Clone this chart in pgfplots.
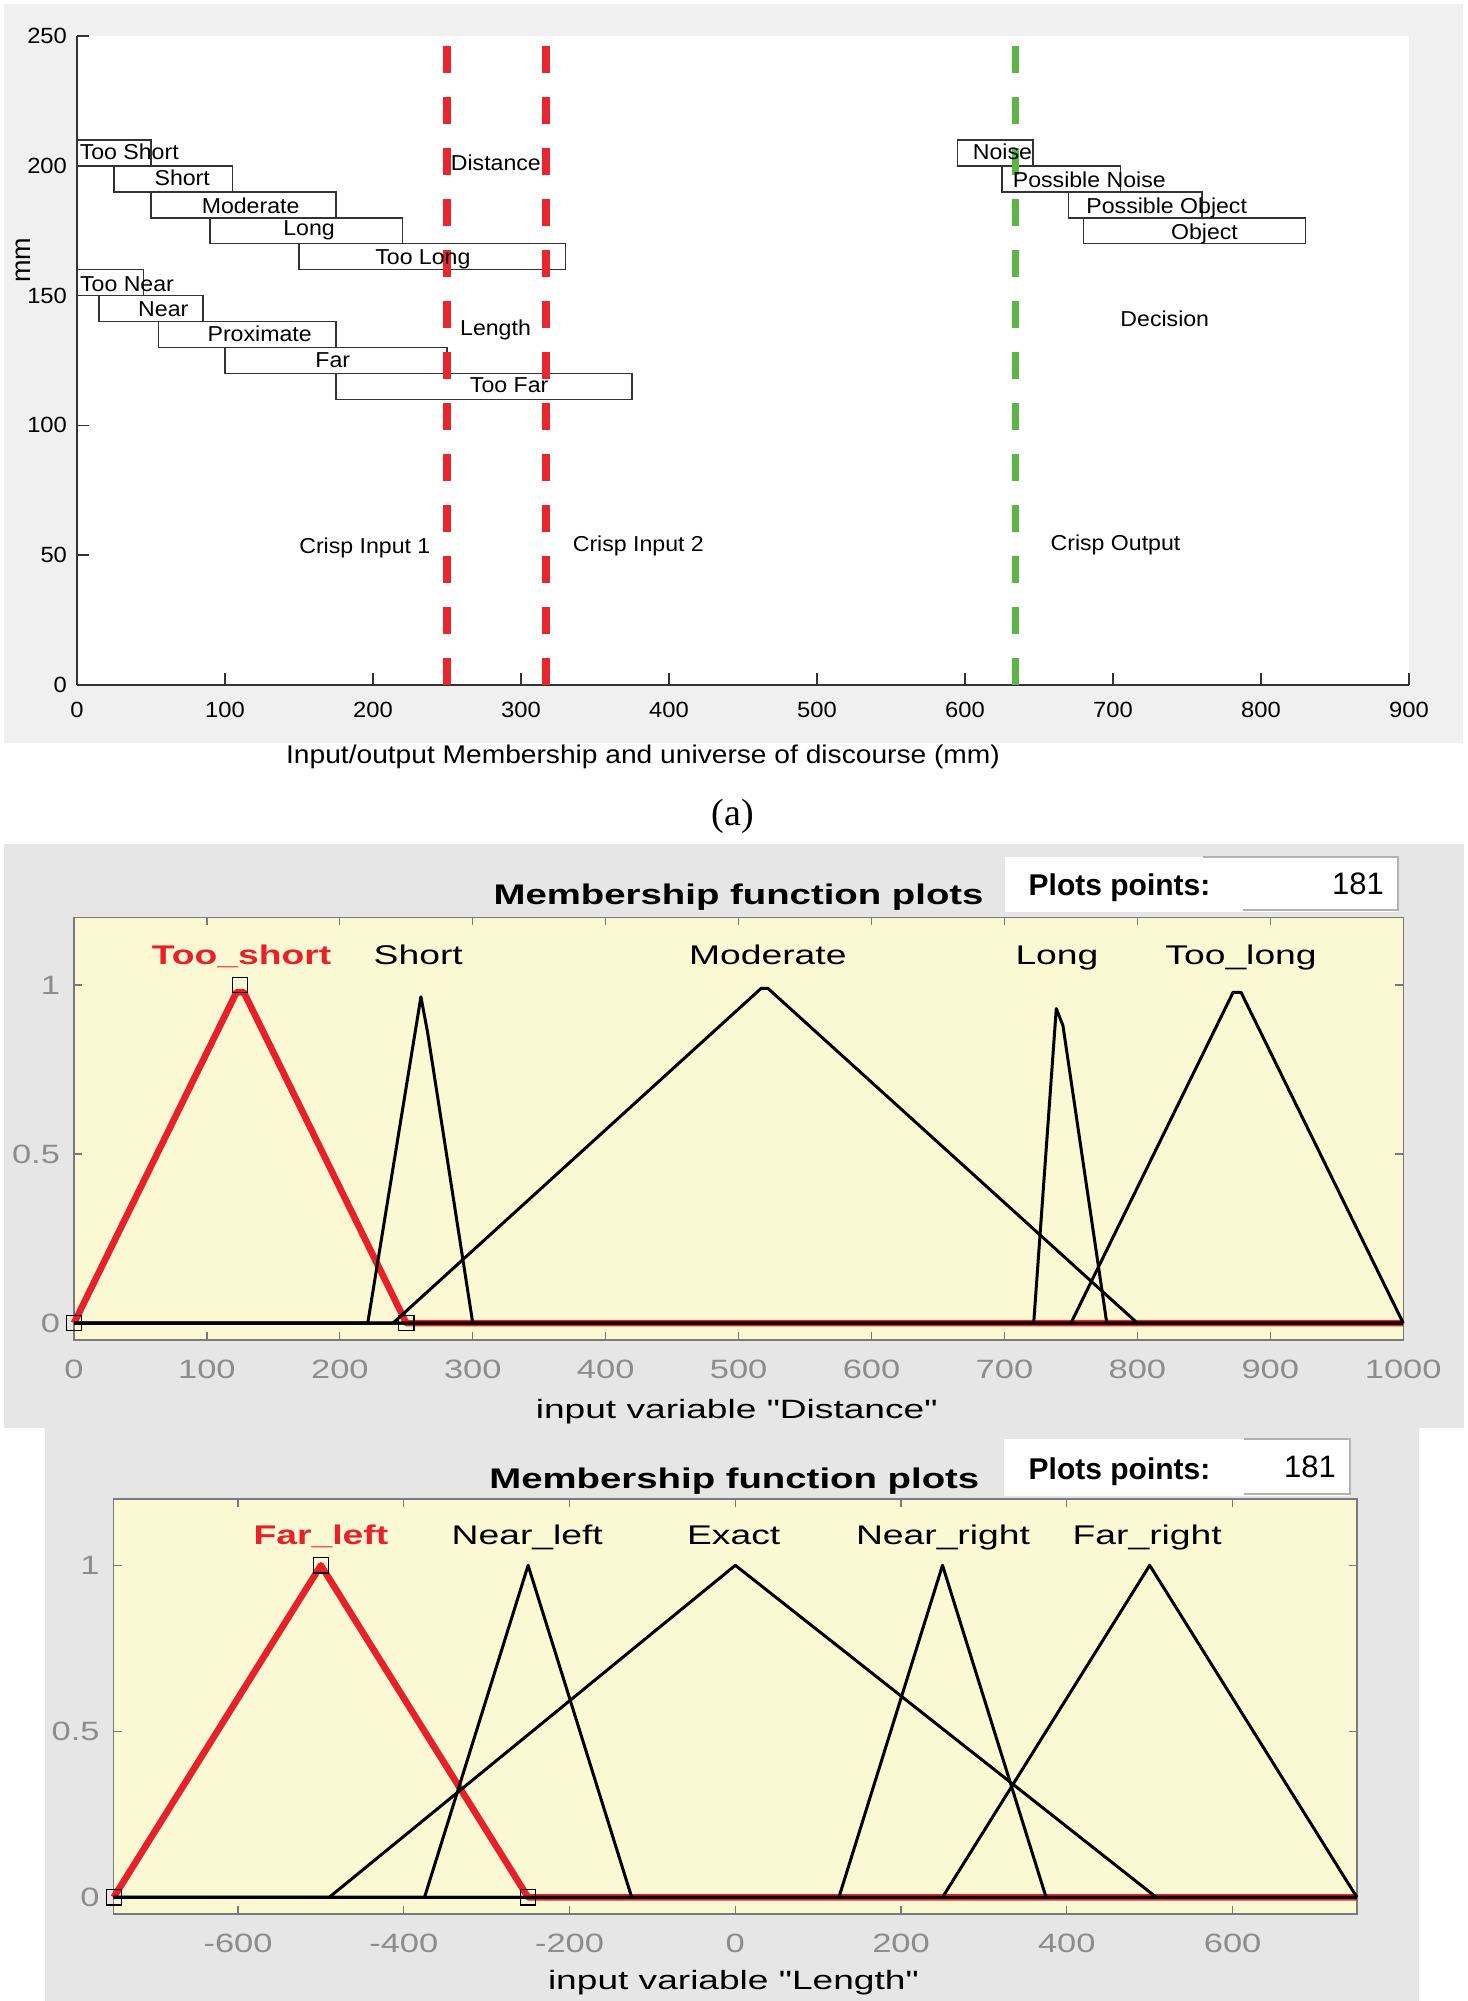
\documentclass[border=0pt]{standalone}
\usepackage{fontspec}
\setmainfont{Liberation Sans}[Ligatures=TeXOff]
\newfontfamily\timesf{Liberation Serif}
\usepackage{graphicx}
\usepackage{pgfplots}
\pgfplotsset{compat=1.18}
\definecolor{bgA}{HTML}{F0F0F0}
\definecolor{bgB}{HTML}{E6E6E6}
\definecolor{mfyel}{HTML}{FBF9D3}
\definecolor{mfred}{HTML}{E8202A}
\definecolor{cred}{HTML}{E8262D}
\definecolor{cgreen}{HTML}{5CB546}
\definecolor{tgray}{HTML}{8C8C8C}
\definecolor{fgray}{HTML}{7A7A7A}
\newcommand{\fs}[1]{\fontsize{#1}{#1}\selectfont}
\newcommand{\SX}[2]{\scalebox{#1}[1]{#2}}
\pgfplotsset{/pgf/number format/1000 sep={}}
\begin{document}
\begin{tikzpicture}[x=0.5pt,y=-0.5pt]
\useasboundingbox (0,0) rectangle (1467,2001);
\fill[bgA] (4,4) rectangle (1463,743);
\fill[bgB] (4,844) rectangle (1464,1428);
\fill[bgB] (45,1428) rectangle (1419,2001);

% ---------------- panel (a)
\begin{axis}[at={(38.5pt,-342.5pt)}, anchor=south west, scale only axis,
  width=666pt, height=324.5pt, xmin=0, xmax=900, ymin=0, ymax=250,
  axis x line*=bottom, axis y line*=left,
  axis background/.style={fill=white},
  xtick={0,100,...,900}, ytick={0,50,...,250},
  tick align=inside, major tick length=6pt,
  axis line style={black!80, line width=1pt},
  tick style={black!80, line width=0.8pt},
  xticklabel={\SX{1.08}{\pgfmathprintnumber{\tick}}},
  yticklabel={\SX{1.08}{\pgfmathprintnumber{\tick}}},
  ticklabel style={font=\fs{11}},
  xticklabel style={yshift=-4.8pt},
  yticklabel style={xshift=-1.5pt},
  /pgf/number format/assume math mode=true,
  clip=false]
% boxes
\draw[black!80, line width=0.8pt] (axis cs:0,200) rectangle (axis cs:50,210);
\draw[black!80, line width=0.8pt] (axis cs:25,190) rectangle (axis cs:105,200);
\draw[black!80, line width=0.8pt] (axis cs:50,180) rectangle (axis cs:175,190);
\draw[black!80, line width=0.8pt] (axis cs:90,170) rectangle (axis cs:220,180);
\draw[black!80, line width=0.8pt] (axis cs:150,160) rectangle (axis cs:330,170);
\draw[black!80, line width=0.8pt] (axis cs:0,150) rectangle (axis cs:45,160);
\draw[black!80, line width=0.8pt] (axis cs:15,140) rectangle (axis cs:85,150);
\draw[black!80, line width=0.8pt] (axis cs:55,130) rectangle (axis cs:175,140);
\draw[black!80, line width=0.8pt] (axis cs:100,120) rectangle (axis cs:250,130);
\draw[black!80, line width=0.8pt] (axis cs:175,110) rectangle (axis cs:375,120);
\draw[black!80, line width=0.8pt] (axis cs:595,200) rectangle (axis cs:646,210);
\draw[black!80, line width=0.8pt] (axis cs:625,190) rectangle (axis cs:705,200);
\draw[black!80, line width=0.8pt] (axis cs:670,180) rectangle (axis cs:760,190);
\draw[black!80, line width=0.8pt] (axis cs:680,170) rectangle (axis cs:830,180);
% crisp lines
\addplot[cred, line width=3.75pt, dash pattern=on 13.25pt off 12.25pt] coordinates {(250,246) (250,0)};
\addplot[cred, line width=3.75pt, dash pattern=on 13.25pt off 12.25pt] coordinates {(317,246) (317,0)};
\addplot[cgreen, line width=3.75pt, dash pattern=on 13.25pt off 12.25pt] coordinates {(634,246) (634,0)};
% texts
\begin{scope}[every node/.style={font=\fs{10.8}, anchor=base}]
\node at (axis cs:35.3,202.6) {\SX{1.07}{Too Short}};
\node at (axis cs:71.1,192.4) {\SX{1.07}{Short}};
\node at (axis cs:117.3,181.8) {\SX{1.07}{Moderate}};
\node at (axis cs:156.8,173.2) {\SX{1.07}{Long}};
\node at (axis cs:233.7,161.9) {\SX{1.07}{Too Long}};
\node at (axis cs:33.8,151.4) {\SX{1.07}{Too Near}};
\node at (axis cs:58.3,141.8) {\SX{1.07}{Near}};
\node at (axis cs:123.4,132.2) {\SX{1.07}{Proximate}};
\node at (axis cs:172.8,122.4) {\SX{1.07}{Far}};
\node at (axis cs:292,112.6) {\SX{1.07}{Too Far}};
\node at (axis cs:283,198.2) {\SX{1.07}{Distance}};
\node at (axis cs:282.8,134.6) {\SX{1.07}{Length}};
\node at (axis cs:625.3,202.3) {\SX{1.07}{Noise}};
\node at (axis cs:684,191.8) {\SX{1.07}{Possible Noise}};
\node at (axis cs:736.3,181.8) {\SX{1.07}{Possible Object}};
\node at (axis cs:761.8,171.5) {\SX{1.07}{Object}};
\node at (axis cs:735,138.2) {\SX{1.07}{Decision}};
\node at (axis cs:194.5,50.8) {\SX{1.07}{Crisp Input 1}};
\node at (axis cs:379.3,51.3) {\SX{1.07}{Crisp Input 2}};
\node at (axis cs:701.7,51.7) {\SX{1.07}{Crisp Output}};
\end{scope}
\end{axis}
\node[font=\fs{12.8}, anchor=base] at (643,763) {\SX{1.1}{Input/output Membership and universe of discourse (mm)}};
\node[font=\fs{13.5}, rotate=90] at (23.6,260) {mm};
\node[font=\timesf\fs{19}, anchor=base] at (733,825) {(a)};

% ---------------- panel (b)
\begin{axis}[at={(37pt,-670pt)}, anchor=south west, scale only axis,
  width=664.6pt, height=211.35pt,
  xmin=0, xmax=1000, ymin=-0.05, ymax=1.2,
  xtick={0,100,...,1000}, ytick={0,0.5,1},
  axis background/.style={fill=mfyel},
  axis line style={fgray, line width=0.6pt},
  tick style={fgray, line width=0.6pt},
  major tick length=4pt, tick align=inside,
  xticklabel={\SX{1.3}{\pgfmathprintnumber{\tick}}},
  yticklabel={\SX{1.3}{\pgfmathprintnumber{\tick}}},
  ticklabel style={font=\fs{13.25}, text=tgray},
  xticklabel style={yshift=-6.4pt},
  yticklabel style={xshift=-3.5pt},
  /pgf/number format/assume math mode=true,
  clip=false]
\addplot[mfred, line width=3.3pt, line join=round] coordinates {(0,0)(122.2,0.978)(127.8,0.978)(250,0)(1000,0)};
\addplot[black, line width=1.5pt, line join=round] coordinates {(0,0)(221,0)(261,0.965)(266,0.86)(300,0)(1000,0)};
\addplot[black, line width=1.5pt, line join=round] coordinates {(0,0)(240,0)(517,0.99)(522,0.99)(800,0)(1000,0)};
\addplot[black, line width=1.5pt, line join=round] coordinates {(0,0)(722,0)(739,0.93)(744,0.88)(777,0)(1000,0)};
\addplot[black, line width=1.5pt, line join=round] coordinates {(0,0)(750,0)(872,0.978)(878,0.978)(1000,0)};
\addplot[only marks, mark=square, mark size=3.8pt, black, mark options={line width=0.6pt}] coordinates {(0,0)(125,1)(250,0)};
\begin{scope}[every node/.style={font=\fs{13.5}, anchor=base}]
\node[font=\bfseries\fs{13.5}, text=mfred] at (axis cs:126,1.06) {\SX{1.38}{Too\_short}};
\node at (axis cs:259,1.06) {\SX{1.38}{Short}};
\node at (axis cs:522,1.06) {\SX{1.38}{Moderate}};
\node at (axis cs:739.5,1.06) {\SX{1.38}{Long}};
\node at (axis cs:878,1.06) {\SX{1.38}{Too\_long}};
\end{scope}
\end{axis}
\node[font=\bfseries\fs{14.2}, anchor=base] at (738.6,904.6) {\SX{1.35}{Membership function plots}};
\fill[white] (1005,857) rectangle (1398,912);
\draw[black!30, line width=0.8pt] (1203,857) -- (1398,857) -- (1398,910) -- (1243,910);
\node[font=\bfseries\fs{15}, anchor=base] at (1119.5,895) {Plots points:};
\node[font=\fs{15.5}, anchor=base east] at (1391,894) {181};
\node[font=\fs{13.25}, anchor=base] at (736.7,1418.6) {\SX{1.4}{input variable "Distance"}};

% ---------------- panel (c)
\begin{axis}[at={(56.85pt,-956.95pt)}, anchor=south west, scale only axis,
  width=621.6pt, height=207.5pt,
  xmin=-750, xmax=750, ymin=-0.05, ymax=1.2,
  xtick={-600,-400,...,600}, ytick={0,0.5,1},
  axis background/.style={fill=mfyel},
  axis line style={fgray, line width=0.6pt},
  tick style={fgray, line width=0.6pt},
  major tick length=4pt, tick align=inside,
  xticklabel={\SX{1.3}{\pgfmathprintnumber{\tick}}},
  yticklabel={\SX{1.3}{\pgfmathprintnumber{\tick}}},
  ticklabel style={font=\fs{13.25}, text=tgray},
  xticklabel style={yshift=-6.4pt},
  yticklabel style={xshift=-3.5pt},
  /pgf/number format/assume math mode=true,
  clip=false]
\addplot[mfred, line width=3.3pt, line join=round] coordinates {(-750,0)(-500,1)(-250,0)(750,0)};
\addplot[black, line width=1.5pt, line join=round] coordinates {(-750,0)(-375,0)(-250,1)(-125,0)(750,0)};
\addplot[black, line width=1.5pt, line join=round] coordinates {(-750,0)(-490,0)(0,1)(508,0)(750,0)};
\addplot[black, line width=1.5pt, line join=round] coordinates {(-750,0)(125,0)(250,1)(375,0)(750,0)};
\addplot[black, line width=1.5pt, line join=round] coordinates {(-750,0)(250,0)(500,1)(750,0)};
\addplot[only marks, mark=square, mark size=3.8pt, black, mark options={line width=0.6pt}] coordinates {(-750,0)(-500,1)(-250,0)};
\begin{scope}[every node/.style={font=\fs{13.5}, anchor=base}]
\node[font=\bfseries\fs{13.5}, text=mfred] at (axis cs:-500,1.063) {\SX{1.38}{Far\_left}};
\node at (axis cs:-251,1.063) {\SX{1.38}{Near\_left}};
\node at (axis cs:-2,1.063) {\SX{1.38}{Exact}};
\node at (axis cs:250.6,1.063) {\SX{1.38}{Near\_right}};
\node at (axis cs:497,1.063) {\SX{1.38}{Far\_right}};
\end{scope}
\end{axis}
\node[font=\bfseries\fs{14.2}, anchor=base] at (734.3,1488.5) {\SX{1.35}{Membership function plots}};
\fill[white] (1004,1438.5) rectangle (1350,1496);
\draw[black!30, line width=0.8pt] (1244,1439) -- (1350,1439) -- (1350,1494) -- (1244,1494);
\node[font=\bfseries\fs{15}, anchor=base] at (1119.5,1479.3) {Plots points:};
\node[font=\fs{15.5}, anchor=base east] at (1343,1477.4) {181};
\node[font=\fs{13.25}, anchor=base] at (733.4,1989.8) {\SX{1.4}{input variable "Length"}};
\end{tikzpicture}
\end{document}
